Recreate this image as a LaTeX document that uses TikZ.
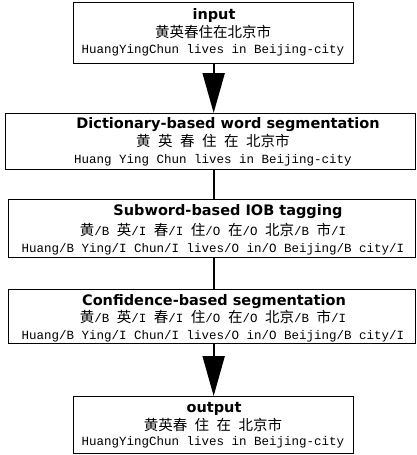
\documentclass[tikz,border=0pt]{standalone}
\usepackage{fontspec}
\setmainfont{Liberation Serif}
\setmonofont{Liberation Mono}
\newfontfamily\zhfont{Noto Sans CJK SC}
\newfontfamily\titlefont{DejaVu Sans}
\usetikzlibrary{arrows.meta}
\newcommand{\zh}[1]{{\zhfont\fontsize{14.5}{16}\selectfont #1}}
\tikzset{
  box/.style={draw, line width=1.3pt, inner sep=0pt, anchor=north west},
  ttl/.style={inner sep=0pt, font=\titlefont\bfseries\fontsize{14.5}{17}\selectfont, text height=10.5pt, text depth=0pt},
  txt/.style={inner sep=0pt, font=\ttfamily\fontsize{12.5}{15}\selectfont, text height=9pt, text depth=2.5pt},
  ztxt/.style={inner sep=0pt, font=\ttfamily\fontsize{12.5}{15}\selectfont, text height=11pt, text depth=2pt},
  stem/.style={line width=2pt},
  bigtip/.style={-{Triangle[length=40pt,width=22pt]}}
}
\begin{document}
\begin{tikzpicture}[x=1pt,y=-1pt]
\useasboundingbox (0,0) rectangle (416,455);
% boxes
\node[box, minimum width=280pt, minimum height=61pt] (input) at (73,2) {};
\node[box, minimum width=410pt, minimum height=56pt] (dict) at (5,113) {};
\node[box, minimum width=407pt, minimum height=58pt] (sub) at (8,199) {};
\node[box, minimum width=407pt, minimum height=54pt] (conf) at (8,289) {};
\node[box, minimum width=280pt, minimum height=57pt] (output) at (73,396) {};
% input
\node[ttl] (inT) at (214,14) {input};
\node[ztxt] (inZ) at (213,33) {\zh{黄英春住在北京市}};
\node[txt] (inL) at (213,50) {HuangYingChun lives in Beijing-city};
% dictionary
\node[ttl] (dT) at (228,123) {Dictionary-based word segmentation};
\node[ztxt] (dZ) at (213,142) {\zh{黄} \zh{英} \zh{春} \zh{住} \zh{在} \zh{北京市}};
\node[txt] (dL) at (213,160) {Huang Ying Chun lives in Beijing-city};
% subword
\node[ttl] (sT) at (228,210) {Subword-based IOB tagging};
\node[ztxt] (sZ) at (213,231) {\zh{黄}/B \zh{英}/I \zh{春}/I \zh{住}/O \zh{在}/O \zh{北京}/B \zh{市}/I};
\node[txt] (sL) at (213,249) {Huang/B Ying/I Chun/I lives/O in/O Beijing/B city/I};
% confidence
\node[ttl] (cT) at (214,300) {Confidence-based segmentation};
\node[ztxt] (cZ) at (213,318) {\zh{黄}/B \zh{英}/I \zh{春}/I \zh{住}/O \zh{在}/O \zh{北京}/B \zh{市}/I};
\node[txt] (cL) at (213,336) {Huang/B Ying/I Chun/I lives/O in/O Beijing/B city/I};
% output
\node[ttl] (oT) at (214,407) {output};
\node[ztxt] (oZ) at (213,426) {\zh{黄英春} \zh{住} \zh{在} \zh{北京市}};
\node[txt] (oL) at (213,442) {HuangYingChun lives in Beijing-city};
% connectors
\draw[stem, bigtip] (input.south) -- (input.south |- dict.north);
\draw[stem] (input.south |- dict.south) -- (input.south |- sub.north);
\draw[stem] (input.south |- sub.south) -- (input.south |- conf.north);
\draw[stem, bigtip] (input.south |- conf.south) -- (output.north);
\end{tikzpicture}
\end{document}
